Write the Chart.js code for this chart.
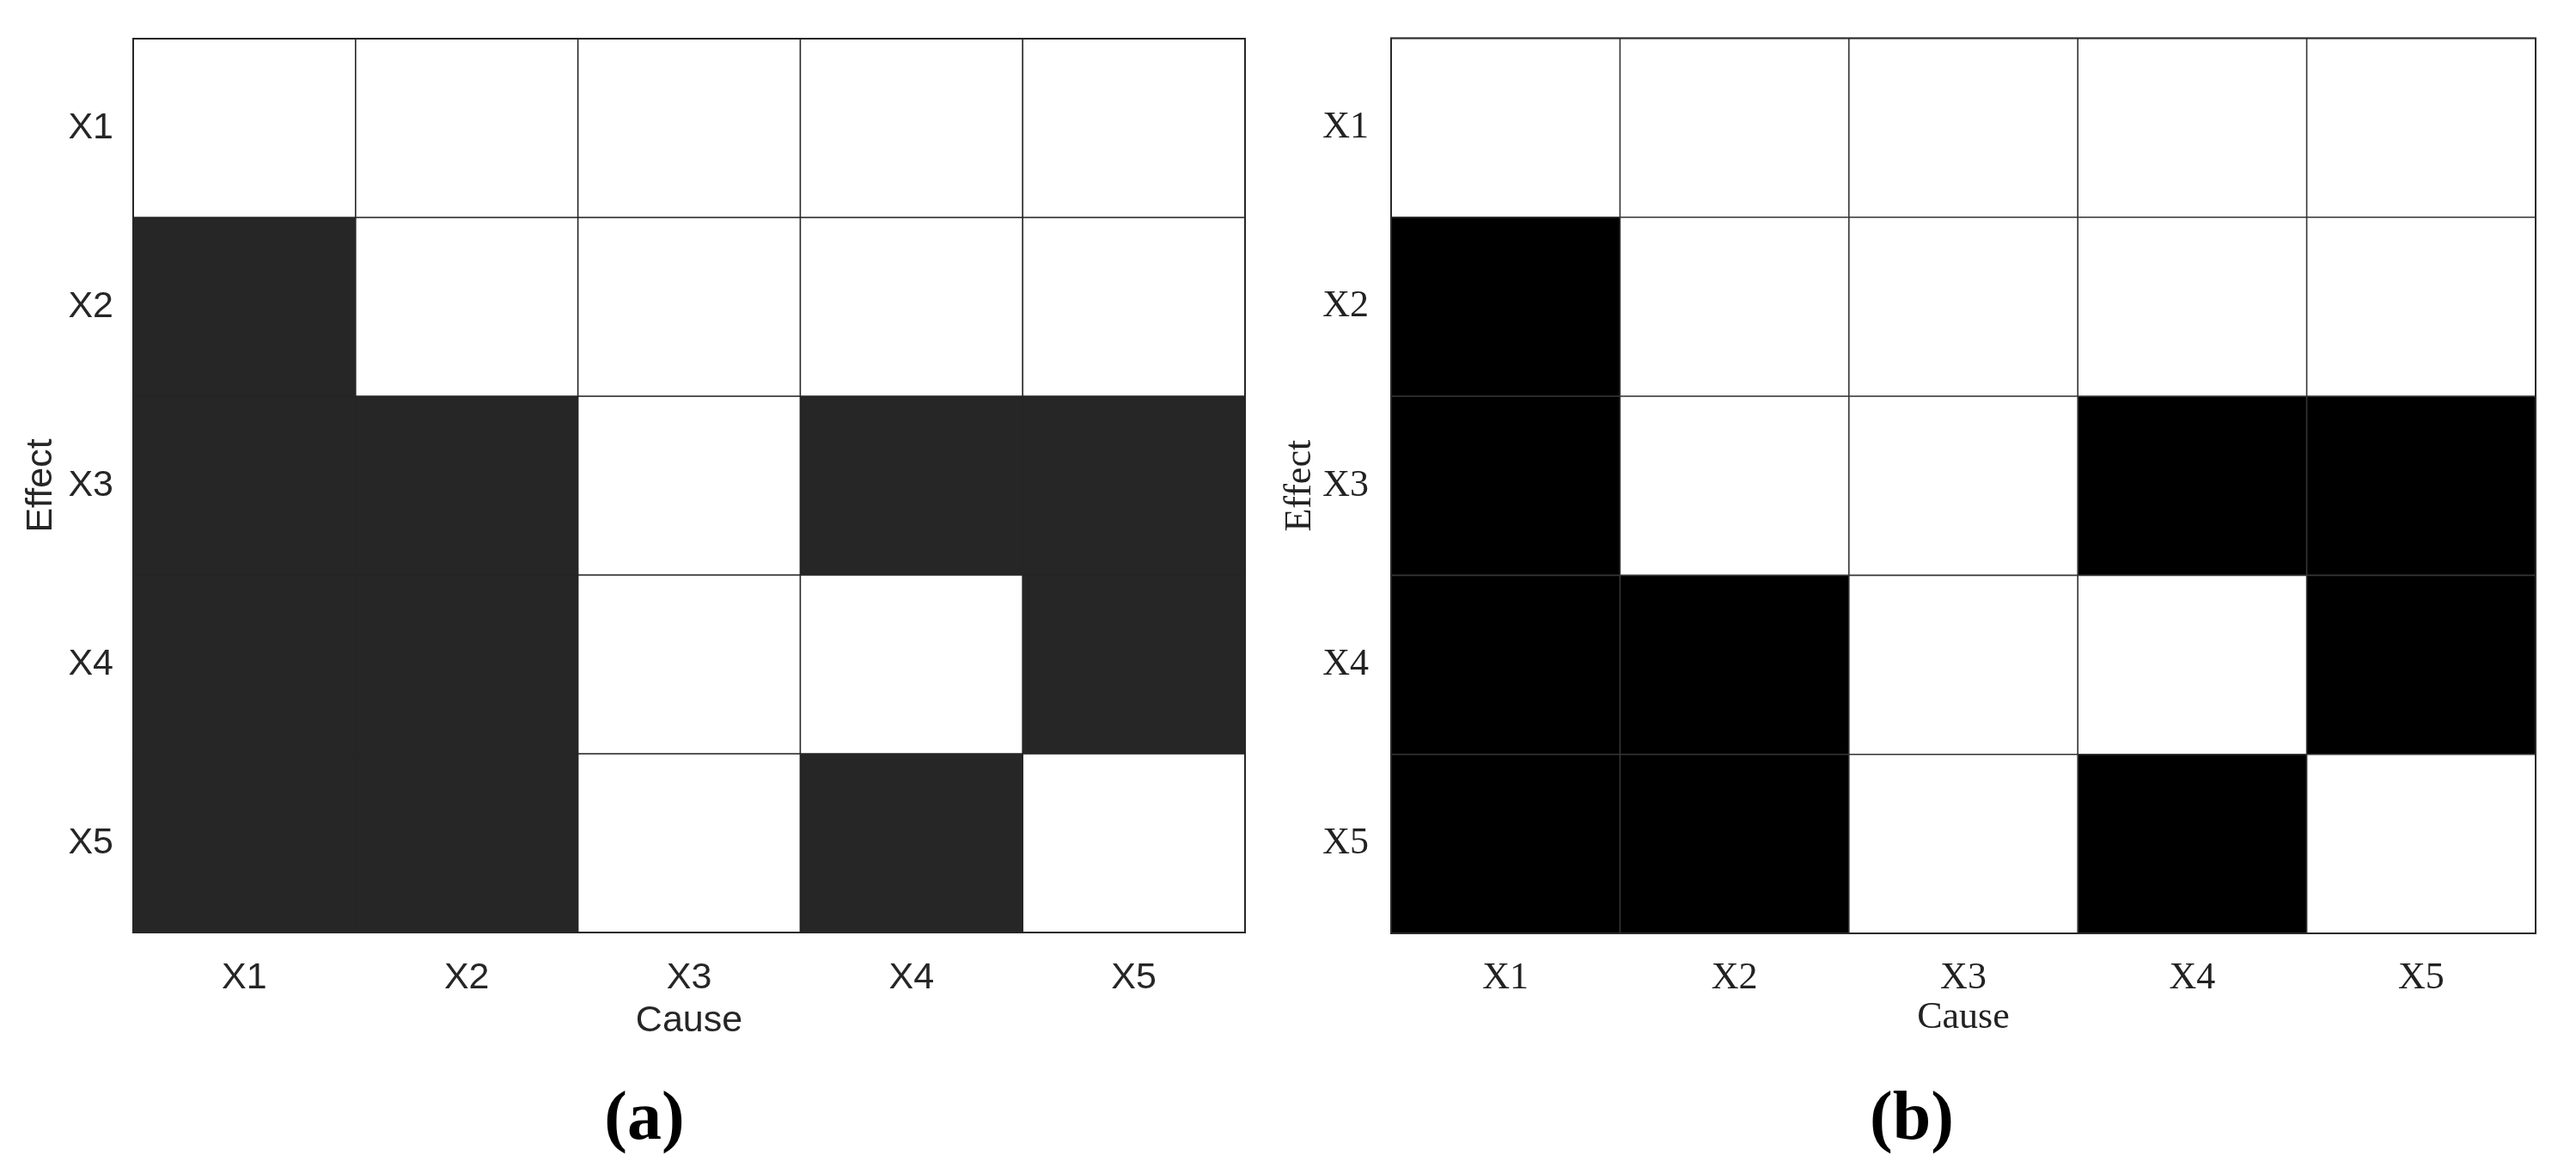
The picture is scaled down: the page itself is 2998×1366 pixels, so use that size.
<!DOCTYPE html>
<html><head><meta charset="utf-8">
<script src="https://cdn.jsdelivr.net/npm/chart.js@4.4.1/dist/chart.umd.min.js"></script>
<style>
html,body{margin:0;padding:0;background:#fff;width:2998px;height:1366px;overflow:hidden;}
.wrap{position:absolute;}
.cap{position:absolute;font:bold 80px "Liberation Serif","Times New Roman",serif;color:#000;width:300px;text-align:center;height:100px;line-height:100px;}
</style></head><body>
<div class="wrap" style="left:0;top:0;width:1500px;height:1366px"><canvas id="chartA"></canvas></div>
<div class="wrap" style="left:1480px;top:0;width:1518px;height:1366px"><canvas id="chartB"></canvas></div>
<div class="cap" style="left:600px;top:1248px">(a)</div>
<div class="cap" style="left:2075px;top:1248px">(b)</div>
<script>
// Categories
const causes = ['X1', 'X2', 'X3', 'X4', 'X5'];
const effects = ['X1', 'X2', 'X3', 'X4', 'X5'];

// Panel (a): 1 = dark cell (causal link), 0 = white. Rows = effect, columns = cause
const aEffectX1 = [0, 0, 0, 0, 0];
const aEffectX2 = [1, 0, 0, 0, 0];
const aEffectX3 = [1, 1, 0, 1, 1];
const aEffectX4 = [1, 1, 0, 0, 1];
const aEffectX5 = [1, 1, 0, 1, 0];

// Panel (b)
const bEffectX1 = [0, 0, 0, 0, 0];
const bEffectX2 = [1, 0, 0, 0, 0];
const bEffectX3 = [1, 0, 0, 1, 1];
const bEffectX4 = [1, 1, 0, 0, 1];
const bEffectX5 = [1, 1, 0, 1, 0];

const panelA = [aEffectX1, aEffectX2, aEffectX3, aEffectX4, aEffectX5];
const panelB = [bEffectX1, bEffectX2, bEffectX3, bEffectX4, bEffectX5];

const framePlugin = {
  id: 'frame',
  afterDatasetsDraw(chart, args, opts) {
    const {ctx, chartArea: ca} = chart;
    ctx.save();
    ctx.strokeStyle = opts.color;
    ctx.lineWidth = opts.width;
    ctx.strokeRect(ca.left, ca.top, ca.right - ca.left, ca.bottom - ca.top);
    ctx.restore();
  }
};

function makeChart(id, rows, cfg) {
  const datasets = rows.map((row, r) => ({
    label: effects[r],
    data: row.map(() => [r, r + 1]),
    backgroundColor: row.map(v => v ? cfg.dark : '#ffffff'),
    borderColor: cfg.line,
    borderWidth: 1.3,
    borderSkipped: false,
    inflateAmount: 0.5,
    barPercentage: 1,
    categoryPercentage: 1,
    grouped: false
  }));
  const tickFont = {family: cfg.family, size: cfg.size, lineHeight: 1.2};
  return new Chart(document.getElementById(id), {
    type: 'bar',
    data: {labels: causes, datasets},
    plugins: [framePlugin],
    options: {
      responsive: true,
      maintainAspectRatio: false,
      animation: false,
      layout: {padding: cfg.pad},
      plugins: {
        legend: {display: false},
        tooltip: {enabled: false},
        frame: {color: cfg.frame, width: 2}
      },
      scales: {
        x: {
          type: 'category',
          offset: true,
          grid: {display: false},
          border: {display: false},
          ticks: {font: tickFont, color: cfg.text, padding: cfg.xTickPad, maxRotation: 0, autoSkip: false},
          title: {display: true, text: 'Cause', font: tickFont, color: cfg.text, padding: {top: 0, bottom: 0}},
          afterFit: s => { s.height = cfg.xHeight; }
        },
        y: {
          type: 'linear',
          min: 0,
          max: 5,
          reverse: true,
          grid: {display: false},
          border: {display: false},
          afterBuildTicks: s => { s.ticks = effects.map((e, i) => ({value: i + 0.5})); },
          ticks: {font: tickFont, color: cfg.text, padding: cfg.yTickPad, autoSkip: false,
                  callback: (v, i) => effects[i]},
          title: {display: true, text: 'Effect', font: tickFont, color: cfg.text, padding: {top: cfg.yTitlePad, bottom: 0}},
          afterFit: s => { s.width = cfg.yWidth; }
        }
      }
    }
  });
}

makeChart('chartA', panelA, {
  dark: '#262626', line: '#262626', frame: '#262626', text: '#262626',
  family: '"Liberation Sans", Arial, Helvetica, sans-serif', size: 43,
  pad: {left: 0, top: 45, right: 51, bottom: 152.2},
  xHeight: 128.8, yWidth: 155, xTickPad: 19, yTickPad: 15, yTitlePad: 22
});

makeChart('chartB', panelB, {
  dark: '#000000', line: '#363636', frame: '#2a2a2a', text: '#222222',
  family: '"Liberation Serif", "Times New Roman", serif', size: 44,
  pad: {left: 0, top: 36, right: 47, bottom: 155.6},
  xHeight: 124.4, yWidth: 139, xTickPad: 17.6, yTickPad: 18, yTitlePad: 6.6
});
</script>
</body></html>
